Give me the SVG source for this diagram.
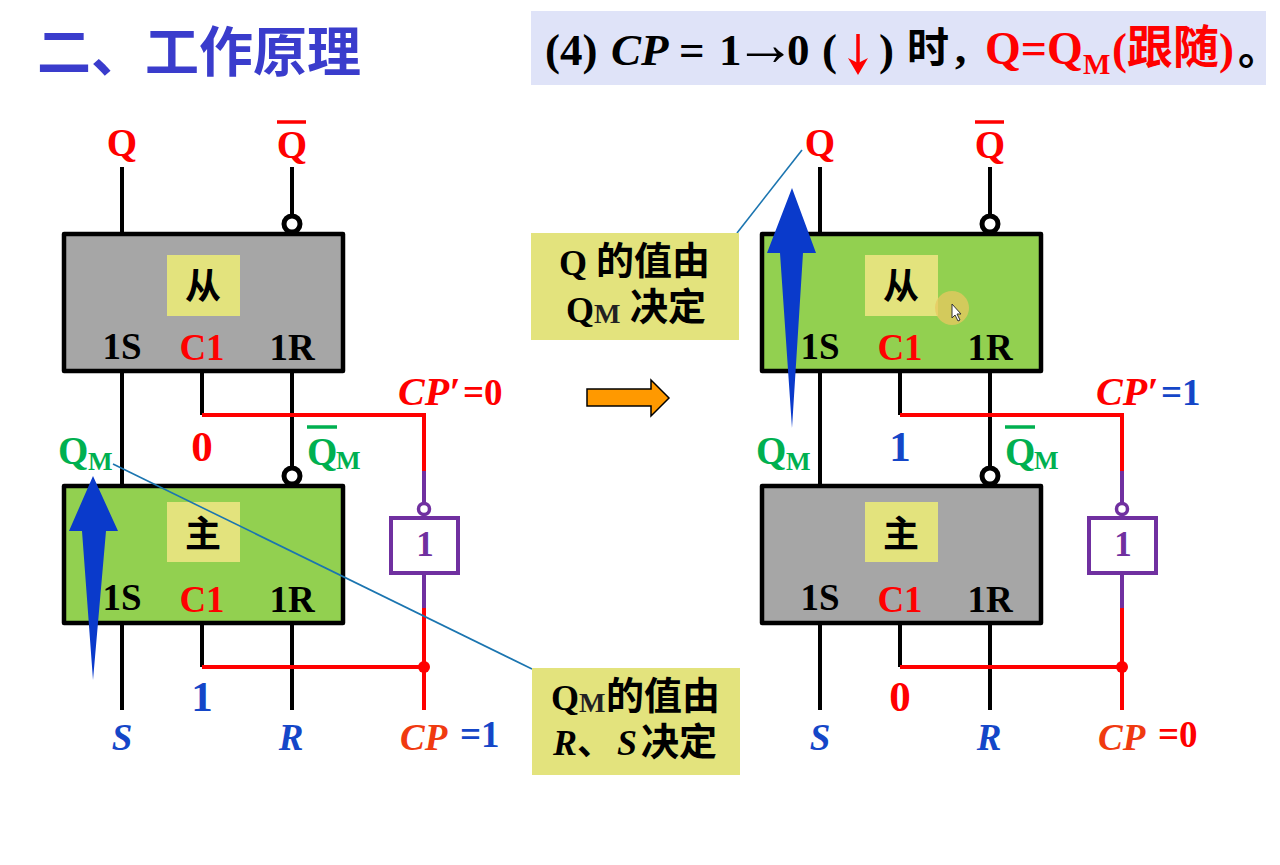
<svg xmlns="http://www.w3.org/2000/svg" width="1280" height="865" viewBox="0 0 1280 865">
  <style>
    text { font-family: "Liberation Serif", "Noto Sans CJK SC", serif; font-weight: 700; }
    .cjk { font-family: "Noto Sans CJK SC", sans-serif; }
    .c { text-anchor: middle; }
    .it { font-style: italic; }
    .ff { stroke: #000; stroke-width: 4.5; stroke-linejoin: round; }
    .active { fill: #92d050; }
    .idle { fill: #a6a6a6; }
    .tag { fill: #e3e37d; }
    .pin { font-size: 37px; fill: #000; }
    .pinc { font-size: 37px; fill: #f00; }
    .big { font-size: 39px; }
    .val { font-size: 43px; }
    .sub { font-size: 26px; }
    .red { fill: #f00; }
    .grn { fill: #00b050; }
    .blu { fill: #1446c8; }
    .org { fill: #f03a10; }
    .blk { fill: #000; }
    .wk { fill: none; stroke: #000; stroke-width: 4; }
    .wr { fill: none; stroke: #f00; stroke-width: 4; }
    .wp { fill: none; stroke: #7030a0; stroke-width: 4; }
    .inv { fill: #fff; stroke: #000; stroke-width: 5; }
    .invp { fill: #fff; stroke: #7030a0; stroke-width: 3.5; }
    .lead { fill: none; stroke: #1b75b0; stroke-width: 1.6; }
    .flow { fill: #0a3acb; }
    .hd { font-size: 45px; }
  </style>

  <rect width="1280" height="865" fill="#fff"/>

  <g id="title">
    <text x="37" y="72" class="cjk" font-size="54" fill="#3a3ccc">二、工作原理</text>
  </g>

  <g id="header">
    <rect x="531" y="11" width="735" height="74" fill="#dfe3f8"/>
    <text x="545" y="65" class="hd blk">(4)</text>
    <text x="611" y="65" class="hd blk it">CP</text>
    <text x="679" y="65" class="hd blk">=</text>
    <text x="719" y="65" class="hd blk">1</text>
    <text x="765" y="65" font-size="62" font-weight="400" class="c blk">→</text>
    <text x="787" y="65" class="hd blk">0</text>
    <text x="822" y="65" class="hd blk">(</text>
    <text x="879" y="65" class="hd blk">)</text>
    <path d="M858 34V66" fill="none" stroke="#f00" stroke-width="3.5"/>
    <path d="M848 58L858 75L868 58L858 63Z" fill="#f00"/>
    <text x="907" y="63" font-size="42" class="blk cjk">时</text>
    <text x="955" y="63" class="hd blk">,</text>
    <text x="985" y="64" font-size="46" class="red">Q=Q</text>
    <text x="1083" y="74" font-size="29" class="red">M</text>
    <text x="1112" y="64" class="hd red">(</text>
    <text x="1127" y="63" font-size="46" class="red cjk">跟随</text>
    <text x="1219" y="64" class="hd red">)</text>
    <text x="1238" y="64" font-size="42" class="blk cjk">。</text>
  </g>

  <!-- Master-slave flip-flop, state before the falling edge -->
  <g id="connectors-left">
    <path class="wk" d="M122 167V234M292 167V216M122 371V486M202 371V415M292 371V468M122 623V710M202 623V667M292 623V710"/>
    <path class="wr" d="M202 415H424V471M202 667H424M424 608V710"/>
    <path class="wp" d="M424 471V503M424 573V608"/>
    <circle class="inv" cx="292" cy="224" r="8"/>
    <circle class="inv" cx="292" cy="476" r="8"/>
    <circle class="invp" cx="424" cy="509" r="5.5"/>
    <circle cx="424" cy="667" r="6" fill="#f00"/>
  </g>
  <g id="slave-left">
    <rect class="ff idle" x="64" y="234" width="279" height="137"/>
    <rect class="tag" x="167" y="255" width="73" height="61"/>
    <text x="203" y="299" font-size="36" class="c blk cjk">从</text>
    <text x="122" y="359" class="pin c">1S</text>
    <text x="202" y="360" class="pinc c">C1</text>
    <text x="292" y="360" class="pin c">1R</text>
  </g>
  <g id="master-left">
    <rect class="ff active" x="64" y="486" width="279" height="137"/>
    <rect class="tag" x="167" y="502" width="73" height="60"/>
    <text x="203" y="547" font-size="36" class="c blk cjk">主</text>
    <text x="122" y="610" class="pin c">1S</text>
    <text x="202" y="612" class="pinc c">C1</text>
    <text x="292" y="612" class="pin c">1R</text>
  </g>
  <g id="inverter-left">
    <rect x="391" y="518" width="67" height="55" fill="#fff" stroke="#7030a0" stroke-width="4"/>
    <text x="425" y="556" font-size="35" class="c" fill="#7030a0">1</text>
  </g>
  <g id="labels-left">
    <text x="122" y="156" class="big c red">Q</text>
    <text x="292" y="158" class="big c red">Q</text>
    <path d="M277 122H306" stroke="#f00" stroke-width="3.5"/>
    <text x="58" y="464" class="big grn">Q</text>
    <text x="88" y="470" class="sub grn">M</text>
    <text x="307" y="465" class="big grn">Q</text>
    <text x="336" y="469" class="sub grn">M</text>
    <path d="M307 427H337" stroke="#00b050" stroke-width="3.5"/>
    <text x="398" y="405" font-size="40" class="red it">CP′</text>
    <text x="463" y="405" font-size="37" class="red">=0</text>
    <text x="202" y="461" class="val c red">0</text>
    <text x="202" y="711" class="val c blu">1</text>
    <text x="122" y="750" font-size="37" class="c blu it">S</text>
    <text x="291" y="750" font-size="37" class="c blu it">R</text>
    <text x="400" y="750" font-size="37" class="org it">CP</text>
    <text x="460" y="747" font-size="37" class="blu">=1</text>
  </g>
  <path id="flow-left" class="flow" d="M93 476L118 531H106L93 680L82 531H69Z"/>

  <g id="transition-arrow">
    <path d="M587 389H651V380L669 398L651 416V406H587Z" fill="#ff9900" stroke="#000" stroke-width="1.5"/>
  </g>

  <!-- Same flip-flop after the falling edge -->
  <g transform="translate(698 0)">
    <g id="connectors-right">
      <path class="wk" d="M122 167V234M292 167V216M122 371V486M202 371V415M292 371V468M122 623V710M202 623V667M292 623V710"/>
      <path class="wr" d="M202 415H424V471M202 667H424M424 608V710"/>
      <path class="wp" d="M424 471V503M424 573V608"/>
      <circle class="inv" cx="292" cy="224" r="8"/>
      <circle class="inv" cx="292" cy="476" r="8"/>
      <circle class="invp" cx="424" cy="509" r="5.5"/>
      <circle cx="424" cy="667" r="6" fill="#f00"/>
    </g>
    <g id="slave-right">
      <rect class="ff active" x="64" y="234" width="279" height="137"/>
      <rect class="tag" x="167" y="255" width="73" height="61"/>
      <text x="203" y="299" font-size="36" class="c blk cjk">从</text>
      <text x="122" y="359" class="pin c">1S</text>
      <text x="202" y="360" class="pinc c">C1</text>
      <text x="292" y="360" class="pin c">1R</text>
    </g>
    <g id="master-right">
      <rect class="ff idle" x="64" y="486" width="279" height="137"/>
      <rect class="tag" x="167" y="502" width="73" height="60"/>
      <text x="203" y="547" font-size="36" class="c blk cjk">主</text>
      <text x="122" y="610" class="pin c">1S</text>
      <text x="202" y="612" class="pinc c">C1</text>
      <text x="292" y="612" class="pin c">1R</text>
    </g>
    <g id="inverter-right">
      <rect x="391" y="518" width="67" height="55" fill="#fff" stroke="#7030a0" stroke-width="4"/>
      <text x="425" y="556" font-size="35" class="c" fill="#7030a0">1</text>
    </g>
    <g id="labels-right">
      <text x="122" y="156" class="big c red">Q</text>
      <text x="292" y="158" class="big c red">Q</text>
      <path d="M277 122H306" stroke="#f00" stroke-width="3.5"/>
      <text x="58" y="464" class="big grn">Q</text>
      <text x="88" y="470" class="sub grn">M</text>
      <text x="307" y="465" class="big grn">Q</text>
      <text x="336" y="469" class="sub grn">M</text>
      <path d="M307 427H337" stroke="#00b050" stroke-width="3.5"/>
      <text x="398" y="405" font-size="40" class="red it">CP′</text>
      <text x="463" y="405" font-size="37" class="blu">=1</text>
      <text x="202" y="461" class="val c blu">1</text>
      <text x="202" y="711" class="val c red">0</text>
      <text x="122" y="750" font-size="37" class="c blu it">S</text>
      <text x="291" y="750" font-size="37" class="c blu it">R</text>
      <text x="400" y="750" font-size="37" class="org it">CP</text>
      <text x="460" y="747" font-size="37" class="red">=0</text>
    </g>
  </g>
  <path id="flow-right" class="flow" d="M792 188L816 253H803L792 428L780 253H767Z"/>

  <g id="note-slave">
    <path class="lead" d="M737 233L802 150"/>
    <rect class="tag" x="531" y="233" width="208" height="107"/>
    <text x="559" y="275" font-size="36" class="blk">Q</text>
    <text x="596" y="274" font-size="38" class="blk cjk">的值由</text>
    <text x="566" y="322" font-size="36" class="blk">Q</text>
    <text x="594" y="323" font-size="28" fill="#222" font-weight="400">M</text>
    <text x="630" y="320" font-size="38" class="blk cjk">决定</text>
  </g>
  <g id="note-master">
    <path class="lead" d="M113 464L532 669"/>
    <rect class="tag" x="532" y="668" width="208" height="107"/>
    <text x="551" y="710" font-size="36" class="blk">Q</text>
    <text x="579" y="712" font-size="28" fill="#222" font-weight="400">M</text>
    <text x="606" y="709" font-size="38" class="blk cjk">的值由</text>
    <text x="553" y="755" font-size="36" class="blk it">R</text>
    <text x="577" y="755" font-size="36" class="blk cjk">、</text>
    <text x="617" y="755" font-size="36" class="blk it">S</text>
    <text x="641" y="755" font-size="38" class="blk cjk">决定</text>
  </g>

  <g id="pointer">
    <circle cx="952" cy="308" r="17" fill="#e8c860" opacity="0.75"/>
    <path d="M952 304V318L955 315L958 321L960 320L957 314H961Z" fill="#fff" stroke="#333" stroke-width="1"/>
  </g>
</svg>
